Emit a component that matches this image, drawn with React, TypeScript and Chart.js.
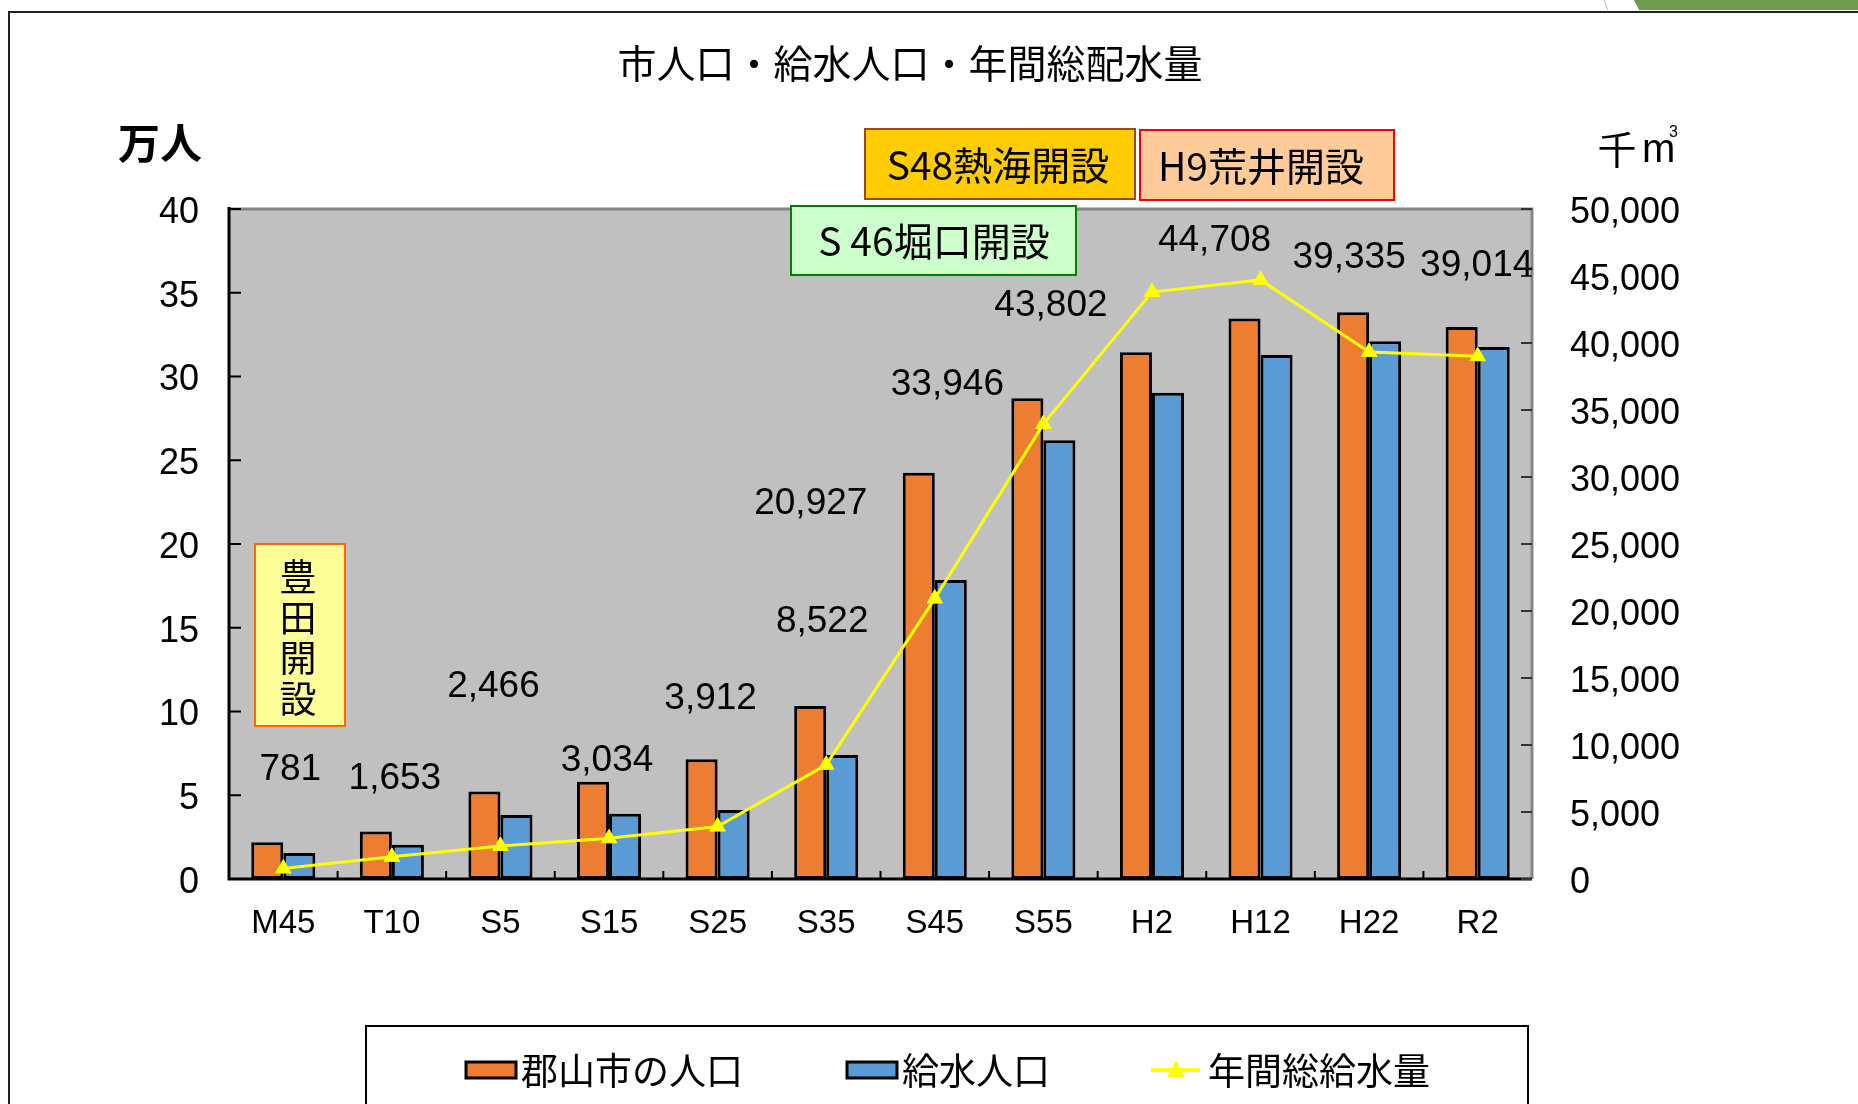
import React, { useEffect, useRef } from "react";
import { Chart, registerables } from "chart.js";

Chart.register(...registerables);

const categories = ["M45", "T10", "S5", "S15", "S25", "S35", "S45", "S55", "H2", "H12", "H22", "R2"];
const cityPopulation = [2.2, 2.83, 5.23, 5.8, 7.15, 10.33, 24.26, 28.7, 31.45, 33.47, 33.83, 32.96];
const servedPopulation = [1.55, 2.05, 3.82, 3.89, 4.12, 7.4, 17.85, 26.2, 29.03, 31.28, 32.1, 31.76];
const annualWater = [781, 1653, 2466, 3034, 3912, 8522, 20927, 33946, 43802, 44708, 39335, 39014];
const leftTicks = { min: 0, max: 40, step: 5 };
const rightTicks = { min: 0, max: 50000, step: 5000 };
const seriesNames = ["郡山市の人口", "給水人口", "年間総給水量"];
const titleText = "市人口・給水人口・年間総配水量";
const leftUnit = "万人";
const rightUnit = "千";
const notes = ["S48熱海開設", "H9荒井開設", "S 46堀口開設", "豊田開設"];

// label offsets (px) relative to each line point
const labelOffsets: [number, number][] = [
  [7, -99], [3, -78], [-7, -159], [-2, -78], [-7, -128], [-4, -143],
  [-124, -95], [-96, -39], [-101, 14], [-46, -39], [-20, -94], [-1, -90],
];

const CJK = '"Noto Sans CJK JP", sans-serif';
const LAT = '"Liberation Sans", Arial, sans-serif';

const decor = {
  id: "decor",
  beforeDatasetsDraw(chart: any) {
    const { ctx, chartArea: a } = chart;
    ctx.save();
    ctx.fillStyle = "#C0C0C0";
    ctx.fillRect(a.left, a.top, a.right - a.left, a.bottom - a.top);
    // top & right gray border
    ctx.strokeStyle = "#858585";
    ctx.lineWidth = 3;
    ctx.beginPath();
    ctx.moveTo(a.left, a.top);
    ctx.lineTo(a.right, a.top);
    ctx.lineTo(a.right, a.bottom);
    ctx.stroke();
    // left & bottom black axis lines
    ctx.strokeStyle = "#000";
    ctx.beginPath();
    ctx.moveTo(a.left, a.top - 2);
    ctx.lineTo(a.left, a.bottom);
    ctx.lineTo(a.right, a.bottom);
    ctx.stroke();
    // inward ticks
    ctx.lineWidth = 2;
    const y = chart.scales.y;
    y.ticks.forEach((t: any, i: number) => {
      const p = y.getPixelForTick(i);
      ctx.beginPath();
      ctx.moveTo(a.left, p);
      ctx.lineTo(a.left + 12, p);
      ctx.stroke();
    });
    const y1 = chart.scales.y1;
    ctx.strokeStyle = "#333";
    y1.ticks.forEach((t: any, i: number) => {
      const p = y1.getPixelForTick(i);
      ctx.beginPath();
      ctx.moveTo(a.right - 11, p);
      ctx.lineTo(a.right, p);
      ctx.stroke();
    });
    const x = chart.scales.x;
    ctx.strokeStyle = "#000";
    for (let i = 1; i < categories.length; i++) {
      const p = (x.getPixelForTick(i - 1) + x.getPixelForTick(i)) / 2;
      ctx.beginPath();
      ctx.moveTo(p, a.bottom);
      ctx.lineTo(p, a.bottom - 8);
      ctx.stroke();
    }
    ctx.restore();
  },
  afterDraw(chart: any) {
    const { ctx } = chart;
    ctx.save();
    // outer frame
    ctx.strokeStyle = "#222";
    ctx.lineWidth = 2;
    ctx.beginPath();
    ctx.moveTo(9, 1104);
    ctx.lineTo(9, 12);
    ctx.lineTo(1858, 12);
    ctx.stroke();
    ctx.fillStyle = "#6E9B4E";
    ctx.beginPath();
    ctx.moveTo(1634, 0);
    ctx.lineTo(1858, 0);
    ctx.lineTo(1858, 10);
    ctx.lineTo(1639, 10);
    ctx.closePath();
    ctx.fill();
    ctx.strokeStyle = "#bbb";
    ctx.lineWidth = 1;
    ctx.beginPath();
    ctx.moveTo(1604, 0);
    ctx.lineTo(1608, 10);
    ctx.stroke();

    ctx.textAlign = "center";
    ctx.textBaseline = "middle";
    ctx.fillStyle = "#000";
    // title
    ctx.font = `400 39px ${CJK}`;
    ctx.fillText(titleText, 910, 63);
    // units
    ctx.font = `bold 42px ${CJK}`;
    ctx.fillText(leftUnit, 160, 143);
    ctx.font = `39px ${CJK}`;
    ctx.fillText(rightUnit, 1617, 149);
    ctx.font = `40px ${LAT}`;
    ctx.textAlign = "left";
    ctx.fillText("m", 1642, 151);
    ctx.font = `16px ${LAT}`;
    ctx.fillText("3", 1669, 133);
    ctx.textAlign = "center";

    // note boxes
    const box = (x0: number, y0: number, x1: number, y1: number, fill: string, stroke: string) => {
      ctx.fillStyle = fill;
      ctx.fillRect(x0, y0, x1 - x0, y1 - y0);
      ctx.strokeStyle = stroke;
      ctx.lineWidth = 2;
      ctx.strokeRect(x0, y0, x1 - x0, y1 - y0);
      ctx.fillStyle = "#000";
    };
    ctx.font = `39px ${CJK}`;
    box(865, 129, 1135, 199, "#FFCC00", "#9C4A0E");
    ctx.fillText(notes[0], 998, 165);
    box(1140, 130, 1394, 200, "#FFCC99", "#FF0000");
    ctx.fillText(notes[1], 1261, 166);
    box(791, 206, 1076, 275, "#CCFFCC", "#008000");
    ctx.fillText(notes[2], 934, 241);
    box(255, 544, 345, 726, "#FFFF99", "#FF6600");
    ctx.font = `37px ${CJK}`;
    const chars = Array.from(notes[3]);
    chars.forEach((c, i) => ctx.fillText(c, 298, 577 + i * 40.7));

    // data labels on line points
    const meta = chart.getDatasetMeta(0);
    ctx.font = `37px ${LAT}`;
    meta.data.forEach((pt: any, i: number) => {
      const [dx, dy] = labelOffsets[i];
      ctx.fillText(annualWater[i].toLocaleString("en-US"), pt.x + dx, pt.y + dy);
    });

    // legend
    ctx.strokeStyle = "#000";
    ctx.lineWidth = 2;
    ctx.strokeRect(366, 1026, 1162, 120);
    const ly = 1070;
    const swatch = (x0: number, color: string) => {
      ctx.fillStyle = color;
      ctx.fillRect(x0, ly - 8, 50, 16);
      ctx.strokeStyle = "#000";
      ctx.lineWidth = 3;
      ctx.strokeRect(x0, ly - 8, 50, 16);
    };
    swatch(466, "#ED7D31");
    swatch(847, "#5B9BD5");
    ctx.strokeStyle = "#FFFF00";
    ctx.lineWidth = 4;
    ctx.beginPath();
    ctx.moveTo(1151, ly);
    ctx.lineTo(1200, ly);
    ctx.stroke();
    ctx.fillStyle = "#FFFF00";
    ctx.beginPath();
    ctx.moveTo(1176, ly - 10);
    ctx.lineTo(1185, ly + 7);
    ctx.lineTo(1167, ly + 7);
    ctx.closePath();
    ctx.fill();
    ctx.fillStyle = "#000";
    ctx.textAlign = "left";
    ctx.font = `37px ${CJK}`;
    ctx.fillText(seriesNames[0], 521, ly + 1);
    ctx.fillText(seriesNames[1], 902, ly + 1);
    ctx.fillText(seriesNames[2], 1208, ly + 1);
    ctx.restore();
  },
};

export default function App() {
  const ref = useRef<HTMLCanvasElement>(null);
  useEffect(() => {
    if (!ref.current) return;
    const chart = new Chart(ref.current, {
      type: "bar",
      data: {
        labels: categories,
        datasets: [
          {
            type: "line",
            label: seriesNames[2],
            data: annualWater,
            yAxisID: "y1",
            borderColor: "#FFFF00",
            backgroundColor: "#FFFF00",
            borderWidth: 3,
            pointStyle: "triangle",
            pointRadius: 9,
            pointBackgroundColor: "#FFFF00",
            pointBorderColor: "#FFFF00",
            pointBorderWidth: 1,
            tension: 0,
            order: 0,
          } as any,
          {
            type: "bar",
            label: seriesNames[0],
            data: cityPopulation,
            yAxisID: "y",
            backgroundColor: "#ED7D31",
            borderColor: "#000",
            borderWidth: 3,
            borderSkipped: false,
            order: 1,
          },
          {
            type: "bar",
            label: seriesNames[1],
            data: servedPopulation,
            yAxisID: "y",
            backgroundColor: "#5B9BD5",
            borderColor: "#000",
            borderWidth: 3,
            borderSkipped: false,
            order: 1,
          },
        ],
      },
      options: {
        responsive: false,
        animation: false,
        devicePixelRatio: 1,
        layout: { padding: { top: 209, left: 0, right: 0, bottom: 0 } },
        datasets: { bar: { categoryPercentage: 0.59, barPercentage: 1 } },
        plugins: { legend: { display: false }, tooltip: { enabled: false }, title: { display: false } },
        scales: {
          x: {
            grid: { display: false, drawTicks: false },
            border: { display: false },
            ticks: { color: "#000", font: { family: LAT, size: 33 }, padding: 25, maxRotation: 0, autoSkip: false },
            afterFit: (s: any) => { s.height = 225; },
          },
          y: {
            position: "left",
            min: leftTicks.min,
            max: leftTicks.max,
            grid: { display: false, drawTicks: false },
            border: { display: false },
            ticks: { stepSize: leftTicks.step, color: "#000", font: { family: LAT, size: 36 }, padding: 30, labelOffset: 4 },
            afterFit: (s: any) => { s.width = 229; },
          },
          y1: {
            position: "right",
            min: rightTicks.min,
            max: rightTicks.max,
            grid: { display: false, drawTicks: false },
            border: { display: false },
            ticks: {
              stepSize: rightTicks.step,
              color: "#000",
              font: { family: LAT, size: 36 },
              padding: 38,
              labelOffset: 4,
              callback: (v: any) => Number(v).toLocaleString("en-US"),
            },
            afterFit: (s: any) => { s.width = 326; },
          },
        },
      },
      plugins: [decor],
    });
    return () => chart.destroy();
  }, []);
  return (
    <div style={{ position: "absolute", left: 0, top: 0, width: 1858, height: 1104, overflow: "hidden", background: "#fff" }}>
      <canvas ref={ref} width={1858} height={1104} style={{ width: 1858, height: 1104, display: "block" }} />
    </div>
  );
}
